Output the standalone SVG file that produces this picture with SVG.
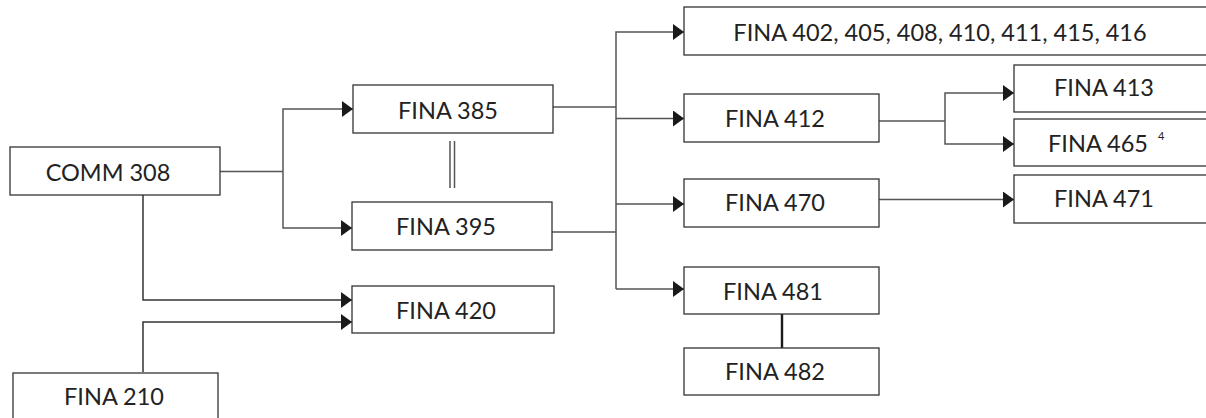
<svg xmlns="http://www.w3.org/2000/svg" width="1206" height="418" viewBox="0 0 1206 418">
<style>
  .box { fill: #fff; stroke: #333; stroke-width: 1.3; }
  .lbl { font-family: Lato, "Liberation Sans", sans-serif; font-size: 23.5px; fill: #222; text-anchor: middle; }
  .sup { font-family: Lato, "Liberation Sans", sans-serif; font-size: 11px; fill: #222; }
  .con { fill: none; stroke: #555; stroke-width: 1.5; }
  .arr { marker-end: url(#ah); }
</style>
<defs>
  <marker id="ah" markerUnits="userSpaceOnUse" markerWidth="11" markerHeight="16" refX="11" refY="8" orient="auto">
    <path d="M0,0 L11,8 L0,16 z" fill="#1a1a1a"/>
  </marker>
</defs>
<rect width="1206" height="418" fill="#fff"/>
<g id="connectors">
  <path class="con" d="M220,171.5 H283"/>
  <path class="con arr" d="M283,171.5 V109 H353"/>
  <path class="con arr" d="M283,171.5 V228 H352"/>
  <path class="con" d="M450,141 V188 M454.5,141 V188"/>
  <path class="con arr" d="M143,195 V300 H352" style="stroke:#333"/>
  <path class="con arr" d="M143,372 V322 H352" style="stroke:#333"/>
  <path class="con" d="M553,107 H616 M552,232 H616"/>
  <path class="con arr" d="M616,289 V32 H684"/>
  <path class="con arr" d="M616,289 H684"/>
  <path class="con arr" d="M616,118.5 H684"/>
  <path class="con arr" d="M616,204 H684"/>
  <path class="con" d="M879,121 H945"/>
  <path class="con arr" d="M945,121 V93 H1014"/>
  <path class="con arr" d="M945,121 V144 H1014"/>
  <path class="con arr" d="M879,199.5 H1014"/>
  <path d="M782,314 V348" fill="none" stroke="#1a1a1a" stroke-width="2.4"/>
</g>
<g id="comm308"><rect class="box" x="10" y="147" width="210" height="48"/><text class="lbl" x="108" y="181">COMM 308</text></g>
<g id="fina385"><rect class="box" x="353" y="85" width="200" height="48"/><text class="lbl" x="448" y="119">FINA 385</text></g>
<g id="fina395"><rect class="box" x="352" y="202" width="200" height="48"/><text class="lbl" x="446" y="235">FINA 395</text></g>
<g id="fina420"><rect class="box" x="352" y="286" width="202" height="47"/><text class="lbl" x="446" y="319">FINA 420</text></g>
<g id="fina210"><rect class="box" x="13" y="373" width="205" height="60"/><text class="lbl" x="114" y="405">FINA 210</text></g>
<g id="fina402"><rect class="box" x="684" y="7" width="540" height="48"/><text class="lbl" x="940" y="41">FINA 402, 405, 408, 410, 411, 415, 416</text></g>
<g id="fina412"><rect class="box" x="684" y="94" width="195" height="48"/><text class="lbl" x="775" y="127">FINA 412</text></g>
<g id="fina470"><rect class="box" x="684" y="179" width="195" height="48"/><text class="lbl" x="775" y="211">FINA 470</text></g>
<g id="fina481"><rect class="box" x="684" y="267" width="195" height="47"/><text class="lbl" x="773" y="300">FINA 481</text></g>
<g id="fina482"><rect class="box" x="684" y="348" width="195" height="47"/><text class="lbl" x="775" y="380">FINA 482</text></g>
<g id="fina413"><rect class="box" x="1014" y="65" width="210" height="47"/><text class="lbl" x="1104" y="96">FINA 413</text></g>
<g id="fina465"><rect class="box" x="1014" y="119" width="210" height="47"/><text class="lbl" x="1098" y="151.5">FINA 465</text><text class="sup" x="1158" y="140">4</text></g>
<g id="fina471"><rect class="box" x="1014" y="175" width="210" height="48"/><text class="lbl" x="1104" y="207">FINA 471</text></g>
</svg>
